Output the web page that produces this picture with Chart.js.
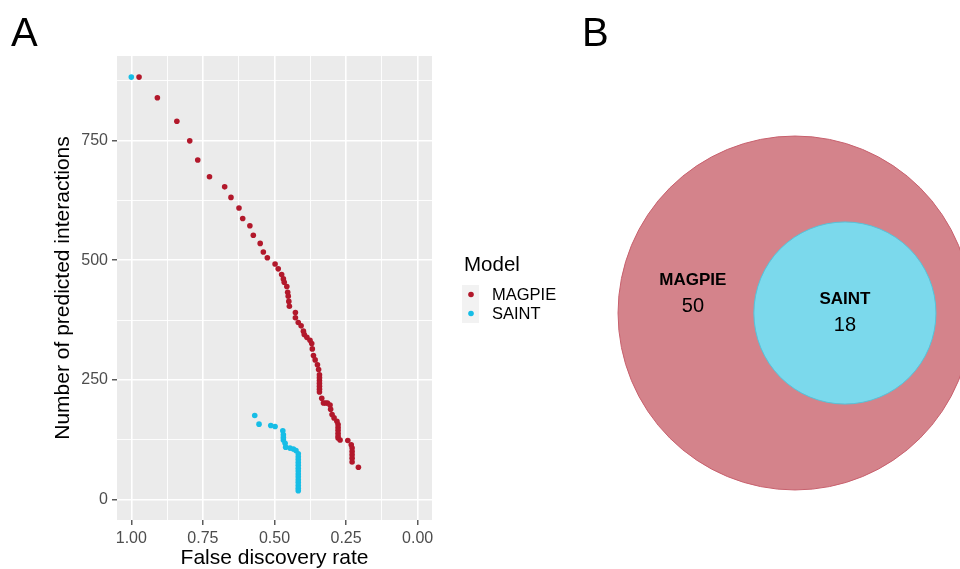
<!DOCTYPE html>
<html>
<head>
<meta charset="utf-8">
<script src="https://cdn.jsdelivr.net/npm/chart.js@4.4.0/dist/chart.umd.min.js"></script>
<style>
  body { margin: 0; background: #fff; }
  #wrap { position: relative; width: 960px; height: 569px; overflow: hidden; }
  #chartA { position: absolute; left: 0; top: 0; }
  #chartB { position: absolute; left: 580px; top: 0; }
</style>
</head>
<body>
<div id="wrap">
  <canvas id="chartA" width="580" height="569"></canvas>
  <canvas id="chartB" width="380" height="569"></canvas>
</div>
<script>
// panel A: false discovery rate vs number of predicted interactions
var magpieFdr = [0.973, 0.909, 0.841, 0.796, 0.768, 0.727, 0.674, 0.652, 0.624, 0.611,
    0.586, 0.574, 0.550, 0.539, 0.525, 0.498, 0.487, 0.475, 0.469, 0.466,
    0.457, 0.454, 0.452, 0.450, 0.448, 0.427, 0.427, 0.417, 0.407, 0.399,
    0.396, 0.387, 0.376, 0.370, 0.368, 0.364, 0.358, 0.350, 0.346,
    0.343, 0.343, 0.343, 0.343, 0.343, 0.343, 0.343,
    0.335, 0.329, 0.322, 0.315, 0.306, 0.304, 0.299, 0.292, 0.282,
    0.278, 0.278, 0.278, 0.278, 0.278, 0.278,
    0.271, 0.244, 0.232,
    0.229, 0.229, 0.229, 0.229, 0.229,
    0.207];
var magpieCount = [882, 839, 790, 749, 709, 674, 653, 631, 609, 587,
    572, 552, 535, 517, 505, 492, 482, 470, 461, 454,
    445, 433, 425, 414, 404, 391, 380, 370, 363, 352,
    345, 339, 333, 326, 315, 301, 292, 282, 272,
    261, 255, 249, 243, 237, 231, 225,
    212, 202, 202, 202, 198, 189, 178, 171, 164,
    157, 151, 145, 139, 133, 129,
    125, 124, 115,
    108, 101, 94, 87, 79,
    68];
var saintFdr = [1.000, 0.569, 0.554, 0.513, 0.498, 0.471, 0.469, 0.469, 0.469, 0.463,
    0.461, 0.446, 0.434, 0.425, 0.417,
    0.417, 0.417, 0.417, 0.417, 0.417, 0.417, 0.417, 0.417, 0.417, 0.417, 0.417, 0.417, 0.417];
var saintCount = [882, 176, 158, 155, 153, 144, 136, 130, 125, 118,
    110, 108, 106, 103, 96,
    90, 84, 78, 72, 66, 60, 54, 48, 42, 36, 30, 24, 19];

var xMajorTicks = [0, 0.25, 0.5, 0.75, 1];
var xMinorTicks = [0.125, 0.375, 0.625, 0.875];
var yMajorTicks = [0, 250, 500, 750];
var yMinorTicks = [125, 375, 625, 875];

// panel B: region counts (SAINT lies wholly inside MAGPIE)
var vennSets = ['MAGPIE', 'SAINT'];
var vennCounts = [50, 18];

var FONT = "'Liberation Sans', Arial, Helvetica, sans-serif";
Chart.defaults.font.family = FONT;

function toPoints(xs, ys) {
    var pts = [];
    for (var i = 0; i < xs.length; i++) {
        pts.push({x: xs[i], y: ys[i]});
    }
    return pts;
}

function tickList(major, minor) {
    return major.concat(minor).sort(function(a, b) { return a - b; }).map(function(v) {
        return {value: v};
    });
}

function isMajor(list, v) {
    for (var i = 0; i < list.length; i++) {
        if (Math.abs(list[i] - v) < 1e-9) return true;
    }
    return false;
}

var panelBackground = {
    id: 'panelBackground',
    beforeDraw: function(chart) {
        var a = chart.chartArea;
        var ctx = chart.ctx;
        ctx.save();
        ctx.fillStyle = '#ebebeb';
        ctx.fillRect(a.left, a.top, a.right - a.left, a.bottom - a.top);
        ctx.restore();
    }
};

// ggplot style legend drawn next to the panel
var modelLegend = {
    id: 'modelLegend',
    afterDraw: function(chart) {
        var ctx = chart.ctx;
        ctx.save();
        ctx.fillStyle = '#000';
        ctx.textBaseline = 'middle';
        ctx.font = '20.5px ' + FONT;
        ctx.fillText('Model', 464, 265);
        var sets = chart.data.datasets;
        for (var i = 0; i < sets.length; i++) {
            var top = 285 + i * 19;
            ctx.fillStyle = '#f2f2f2';
            ctx.fillRect(462, top, 17, 19);
            ctx.fillStyle = sets[i].backgroundColor;
            ctx.beginPath();
            ctx.arc(471, top + 9.5, 2.8, 0, Math.PI * 2);
            ctx.fill();
            ctx.fillStyle = '#000';
            ctx.font = '16.5px ' + FONT;
            ctx.fillText(sets[i].label, 492, top + 10);
        }
        ctx.font = '40px ' + FONT;
        ctx.textBaseline = 'alphabetic';
        ctx.fillText('A', 11, 46);
        ctx.restore();
    }
};

var chartA = new Chart(document.getElementById('chartA'), {
    type: 'scatter',
    data: {
        datasets: [
            {label: 'MAGPIE', data: toPoints(magpieFdr, magpieCount), backgroundColor: '#b2182b'},
            {label: 'SAINT', data: toPoints(saintFdr, saintCount), backgroundColor: '#16bde6'}
        ]
    },
    options: {
        responsive: false,
        animation: false,
        events: [],
        layout: {autoPadding: false, padding: {left: 0, top: 56, right: 148, bottom: 0}},
        elements: {point: {radius: 2.8, borderWidth: 0, hoverRadius: 2.8}},
        plugins: {legend: {display: false}, tooltip: {enabled: false}},
        scales: {
            x: {
                type: 'linear',
                reverse: true,
                min: -0.05,
                max: 1.05,
                afterBuildTicks: function(scale) { scale.ticks = tickList(xMajorTicks, xMinorTicks); },
                afterFit: function(scale) { scale.height = 49; },
                border: {display: false},
                grid: {
                    color: '#ffffff',
                    lineWidth: function(c) { return isMajor(xMajorTicks, c.tick.value) ? 1.6 : 0.9; },
                    tickLength: 5,
                    tickWidth: 1.2,
                    tickColor: function(c) { return isMajor(xMajorTicks, c.tick.value) ? '#333333' : 'rgba(0,0,0,0)'; }
                },
                ticks: {
                    autoSkip: false,
                    maxRotation: 0,
                    padding: 4,
                    color: '#4d4d4d',
                    font: {size: 16},
                    callback: function(v) { return isMajor(xMajorTicks, v) ? v.toFixed(2) : ''; }
                },
                title: {display: true, text: 'False discovery rate', color: '#000', font: {size: 21}, padding: {top: 0, bottom: -2}}
            },
            y: {
                type: 'linear',
                min: -42,
                max: 926,
                afterBuildTicks: function(scale) { scale.ticks = tickList(yMajorTicks, yMinorTicks); },
                afterFit: function(scale) { scale.width = 117; },
                border: {display: false},
                grid: {
                    color: '#ffffff',
                    lineWidth: function(c) { return isMajor(yMajorTicks, c.tick.value) ? 1.6 : 0.9; },
                    tickLength: 5,
                    tickWidth: 1.2,
                    tickColor: function(c) { return isMajor(yMajorTicks, c.tick.value) ? '#333333' : 'rgba(0,0,0,0)'; }
                },
                ticks: {
                    autoSkip: false,
                    padding: 4,
                    color: '#4d4d4d',
                    font: {size: 16},
                    callback: function(v) { return isMajor(yMajorTicks, v) ? String(v) : ''; }
                },
                title: {display: true, text: 'Number of predicted interactions', color: '#000', font: {size: 21}, padding: {top: 51, bottom: 0}}
            }
        }
    },
    plugins: [panelBackground, modelLegend]
});

// panel B: nested Venn, circle area proportional to set size
var magpieTotal = vennCounts[0] + vennCounts[1];
var saintTotal = vennCounts[1];
var radiusScale = 21.46;
var bigR = radiusScale * Math.sqrt(magpieTotal);
var smallR = radiusScale * Math.sqrt(saintTotal);
var innerShift = bigR - smallR - 36;

var vennLabels = {
    id: 'vennLabels',
    afterDatasetsDraw: function(chart) {
        var ctx = chart.ctx;
        var big = chart.getDatasetMeta(1).data[0];
        var small = chart.getDatasetMeta(0).data[0];
        ctx.save();
        ctx.fillStyle = '#000';
        ctx.textAlign = 'center';
        ctx.textBaseline = 'middle';
        var mx = big.x - bigR * 0.577;
        ctx.font = 'bold 17px ' + FONT;
        ctx.fillText(vennSets[0], mx, big.y - 33);
        ctx.fillText(vennSets[1], small.x, small.y - 14);
        ctx.font = '20px ' + FONT;
        ctx.fillText(String(vennCounts[0]), mx, big.y - 7);
        ctx.fillText(String(vennCounts[1]), small.x, small.y + 12);
        ctx.textAlign = 'left';
        ctx.textBaseline = 'alphabetic';
        ctx.font = '40px ' + FONT;
        ctx.fillText('B', 2, 46);
        ctx.restore();
    }
};

var chartB = new Chart(document.getElementById('chartB'), {
    type: 'bubble',
    data: {
        datasets: [
            {label: vennSets[1], data: [{x: innerShift, y: 0, r: smallR}],
             backgroundColor: '#7bd9ec', borderColor: '#55c3da', borderWidth: 1, clip: false},
            {label: vennSets[0], data: [{x: 0, y: 0, r: bigR}],
             backgroundColor: '#d4838b', borderColor: '#c7606d', borderWidth: 1, clip: false}
        ]
    },
    options: {
        responsive: false,
        animation: false,
        events: [],
        layout: {autoPadding: false, padding: 0},
        plugins: {legend: {display: false}, tooltip: {enabled: false}},
        scales: {
            x: {type: 'linear', display: false, min: -215, max: 165},
            y: {type: 'linear', display: false, min: -256, max: 313}
        }
    },
    plugins: [vennLabels]
});
</script>
</body>
</html>
